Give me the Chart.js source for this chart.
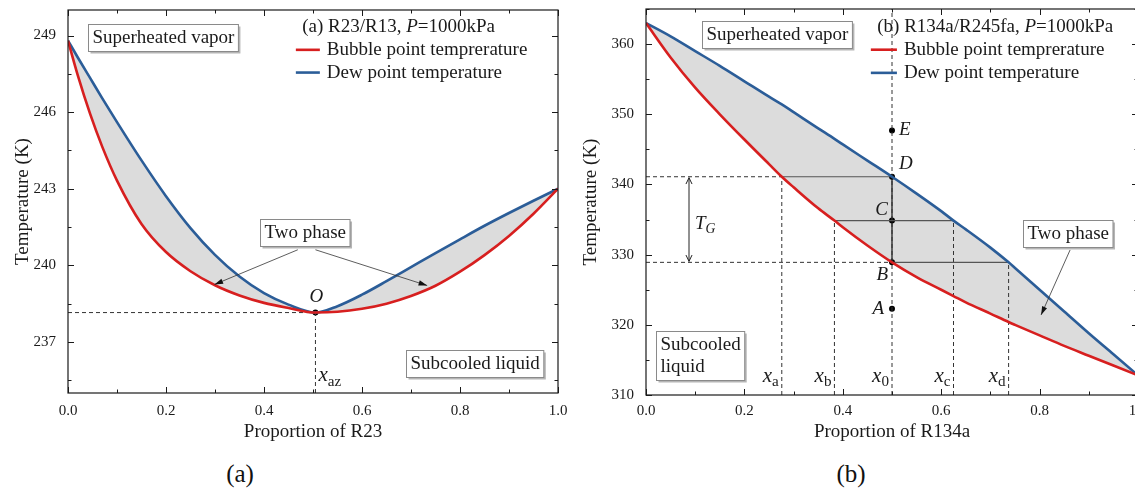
<!DOCTYPE html>
<html>
<head>
<meta charset="utf-8">
<script src="https://cdn.jsdelivr.net/npm/chart.js@4.4.1/dist/chart.umd.min.js"></script>
<style>
  html, body { margin: 0; padding: 0; background: #fff; overflow: hidden; width: 1135px; height: 495px; position: relative; }
  canvas { position: absolute; top: 0; }
  .cap { position: absolute; top: 460px; font: 25px "Liberation Serif", serif; color: #111; transform: translateX(-50%); }
</style>
</head>
<body>
<canvas id="chartA" width="570" height="450" style="left:0"></canvas>
<canvas id="chartB" width="575" height="450" style="left:570px"></canvas>
<div class="cap" style="left:240px">(a)</div>
<div class="cap" style="left:851px">(b)</div>
<script>
// (a) R23/R13 at 1000 kPa
const xA = [0, 0.02, 0.045, 0.07, 0.1, 0.15, 0.2, 0.25, 0.3, 0.35, 0.4, 0.45, 0.505, 0.55, 0.6, 0.65, 0.7, 0.75, 0.8, 0.85, 0.9, 0.95, 1];
const bubbleA = [248.8, 247.44, 245.94, 244.64, 243.32, 241.62, 240.52, 239.77, 239.22, 238.82, 238.53, 238.33, 238.15, 238.18, 238.3, 238.5, 238.8, 239.2, 239.75, 240.4, 241.15, 242.02, 243.0];
const dewA = [248.8, 248.14, 247.34, 246.54, 245.61, 244.11, 242.71, 241.46, 240.41, 239.56, 238.91, 238.46, 238.15, 238.4, 238.85, 239.38, 239.93, 240.48, 241.02, 241.55, 242.05, 242.53, 243.0];
const azeoX = 0.505;
const azeoT = 238.15;
const yTicksA = [237, 240, 243, 246, 249];

// (b) R134a/R245fa at 1000 kPa
const xB = [0, 0.05, 0.1, 0.15, 0.2, 0.25, 0.276, 0.3, 0.35, 0.383, 0.4, 0.45, 0.5, 0.55, 0.6, 0.625, 0.65, 0.7, 0.737, 0.75, 0.8, 0.85, 0.9, 0.95, 1];
const bubbleB = [363, 358.1, 353.8, 350.0, 346.4, 342.9, 341.1, 339.6, 336.6, 334.85, 333.9, 331.3, 328.9, 326.8, 325.0, 324.1, 323.2, 321.6, 320.4, 320.0, 318.5, 317.0, 315.6, 314.2, 312.8];
const dewB = [363, 361.1, 359.0, 356.9, 354.7, 352.5, 351.4, 350.3, 348.0, 346.5, 345.7, 343.4, 341.1, 338.7, 336.2, 334.85, 333.6, 331.0, 328.9, 328.1, 325.0, 321.9, 318.8, 315.8, 312.8];
const x0 = 0.5;
const stateNames = ['A', 'B', 'C', 'D', 'E'];
const stateT = [322.3, 328.9, 334.85, 341.1, 347.7];
const cutNames = ['a', 'b', 'c', 'd'];
const cutX = [0.276, 0.383, 0.625, 0.737];
const cutT = [341.1, 334.85, 334.85, 328.9];
const yTicksB = [310, 320, 330, 340, 350, 360];

const xTicks = [0, 0.2, 0.4, 0.6, 0.8, 1.0];

const SERIF = '"Liberation Serif", "Times New Roman", serif';
const RED = '#d71f1f';
const BLUE = '#2b5d98';
const GREY = '#dcdcdc';
const INK = '#1a1a1a';

const pts = (xs, ys) => xs.map((x, i) => ({ x, y: ys[i] }));

function curve(data, color, fill) {
  return { data, borderColor: color, borderWidth: 2.6, pointRadius: 0, fill: fill || false,
    backgroundColor: GREY, cubicInterpolationMode: 'monotone' };
}
function seg(data, color, dash, width) {
  return { data, borderColor: color, borderWidth: width || 1, borderDash: dash ? [4, 3] : [],
    pointRadius: 0, fill: false, tension: 0 };
}
function dots(data) {
  return { data, showLine: false, pointRadius: 3, pointBackgroundColor: '#000', pointBorderWidth: 0, fill: false };
}

function fnt(flags, size) {
  return (flags.includes('i') ? 'italic ' : '') + size + 'px ' + SERIF;
}
// parts: [text, flags] with 'i' italic, 's' subscript
function rich(ctx, parts, x, y, size, align) {
  size = size || 19;
  const sz = p => (p[1] || '').includes('s') ? size * 0.72 : size;
  let w = 0;
  parts.forEach(p => { ctx.font = fnt(p[1] || '', sz(p)); w += ctx.measureText(p[0]).width; });
  let cx = align === 'center' ? x - w / 2 : align === 'right' ? x - w : x;
  ctx.textAlign = 'left';
  ctx.textBaseline = 'middle';
  ctx.fillStyle = INK;
  parts.forEach(p => {
    ctx.font = fnt(p[1] || '', sz(p));
    ctx.fillText(p[0], cx, y + ((p[1] || '').includes('s') ? size * 0.3 : 0));
    cx += ctx.measureText(p[0]).width;
  });
  return w;
}
function box(ctx, lines, cx, cy) {
  ctx.font = fnt('', 19);
  const w = Math.max(...lines.map(l => ctx.measureText(l).width)) + 8;
  const h = lines.length * 22 + 5;
  const x = Math.round(cx - w / 2) + 0.5, y = Math.round(cy - h / 2) + 0.5;
  ctx.fillStyle = '#b5b5b5';
  ctx.fillRect(x + 2, y + 2, w, h);
  ctx.fillStyle = '#fff';
  ctx.fillRect(x, y, w, h);
  ctx.strokeStyle = '#8a8a8a';
  ctx.lineWidth = 1;
  ctx.strokeRect(x, y, w, h);
  lines.forEach((l, i) => rich(ctx, [[l, '']], x + 4, y + 2.5 + 11 + i * 22, 19, 'left'));
}
function head(ctx, x1, y1, x2, y2, open) {
  const a = Math.atan2(y2 - y1, x2 - x1), L = open ? 7 : 9, W = open ? 0.45 : 0.3;
  ctx.beginPath();
  ctx.moveTo(x2 - L * Math.cos(a - W), y2 - L * Math.sin(a - W));
  ctx.lineTo(x2, y2);
  ctx.lineTo(x2 - L * Math.cos(a + W), y2 - L * Math.sin(a + W));
  if (open) { ctx.stroke(); } else { ctx.closePath(); ctx.fill(); }
}
function arrow(ctx, x1, y1, x2, y2) {
  ctx.strokeStyle = '#333';
  ctx.fillStyle = '#111';
  ctx.lineWidth = 0.8;
  ctx.beginPath();
  ctx.moveTo(x1, y1);
  ctx.lineTo(x2, y2);
  ctx.stroke();
  head(ctx, x1, y1, x2, y2, false);
}
function legend(ctx, X, Y, title, x1, x2, t1, t2) {
  rich(ctx, title, X(x1 + 0.013), Y(t1), 19, 'left');
  [[RED, 'Bubble point temprerature'], [BLUE, 'Dew point temperature']].forEach((it, i) => {
    const yy = Y(t2[i]);
    ctx.strokeStyle = it[0];
    ctx.lineWidth = 2.6;
    ctx.beginPath();
    ctx.moveTo(X(x1), yy);
    ctx.lineTo(X(x2), yy);
    ctx.stroke();
    rich(ctx, [[it[1], '']], X(x2) + 7, yy, 19, 'left');
  });
}

// box frame with inward major/minor ticks on all four sides
const frame = {
  id: 'frame',
  afterDatasetsDraw(chart) {
    const { ctx, chartArea: a, scales: { x, y } } = chart;
    ctx.save();
    ctx.strokeStyle = INK;
    ctx.lineWidth = 1.2;
    ctx.strokeRect(a.left, a.top, a.right - a.left, a.bottom - a.top);
    const marks = (s) => {
      const t = s.ticks.map(k => k.value), st = t[1] - t[0], out = [];
      t.forEach(v => out.push([v, 6]));
      for (let v = t[0] - st / 2; v <= s.max + 1e-9; v += st) if (v >= s.min) out.push([v, 3.5]);
      return out;
    };
    ctx.lineWidth = 1;
    ctx.beginPath();
    marks(x).forEach(([v, L]) => {
      const p = Math.round(x.getPixelForValue(v)) + 0.5;
      ctx.moveTo(p, a.bottom); ctx.lineTo(p, a.bottom - L);
      ctx.moveTo(p, a.top); ctx.lineTo(p, a.top + L);
    });
    marks(y).forEach(([v, L]) => {
      const p = Math.round(y.getPixelForValue(v)) + 0.5;
      ctx.moveTo(a.left, p); ctx.lineTo(a.left + L, p);
      ctx.moveTo(a.right, p); ctx.lineTo(a.right - L, p);
    });
    ctx.stroke();
    ctx.restore();
  }
};

function scales(o) {
  const tickFont = { family: SERIF, size: 15 };
  const titleFont = { family: SERIF, size: 19 };
  return {
    x: {
      type: 'linear', min: 0, max: 1,
      afterBuildTicks: s => { s.ticks = xTicks.map(v => ({ value: v })); },
      afterFit: s => { s.height = o.xh; s.paddingLeft = 0; s.paddingRight = 0; },
      grid: { display: false, drawTicks: false }, border: { display: false },
      ticks: { padding: o.xpad, font: tickFont, color: INK, maxRotation: 0, autoSkip: false, callback: v => v.toFixed(1) },
      title: { display: true, text: o.xTitle, font: titleFont, color: INK, padding: { top: 0, bottom: 7 } }
    },
    y: {
      type: 'linear', min: o.ymin, max: o.ymax,
      afterBuildTicks: s => { s.ticks = o.yTicks.map(v => ({ value: v })); },
      afterFit: s => { s.width = o.yw; s.paddingTop = 0; s.paddingBottom = 0; },
      grid: { display: false, drawTicks: false }, border: { display: false },
      ticks: { padding: 12, font: tickFont, color: INK, callback: v => String(v) },
      title: { display: true, text: 'Temperature (K)', font: titleFont, color: INK, padding: { top: o.ytp, bottom: 0 } }
    }
  };
}
const common = {
  responsive: false,
  animation: false,
  devicePixelRatio: 1,
  plugins: { legend: { display: false }, tooltip: { enabled: false }, filler: { drawTime: 'beforeDatasetsDraw' } }
};

// ---------- chart (a)
const yMinA = 235, yMaxA = 250;
new Chart(document.getElementById('chartA'), {
  type: 'line',
  data: {
    datasets: [
      curve(pts(xA, bubbleA), RED, '+1'),
      curve(pts(xA, dewA), BLUE),
      seg([{ x: 0, y: azeoT }, { x: azeoX, y: azeoT }], '#333', true),
      seg([{ x: azeoX, y: yMinA }, { x: azeoX, y: azeoT }], '#333', true),
      dots([{ x: azeoX, y: azeoT }])
    ]
  },
  options: Object.assign({}, common, {
    layout: { padding: { left: 0, top: 10, right: 12, bottom: 0 } },
    scales: scales({ xh: 57, xpad: 9, xTitle: 'Proportion of R23', ymin: yMinA, ymax: yMaxA, yTicks: yTicksA, yw: 68, ytp: 12 })
  }),
  plugins: [frame, {
    id: 'notesA',
    afterDatasetsDraw(chart) {
      const { ctx, scales: { x, y } } = chart;
      const X = v => x.getPixelForValue(v), Y = v => y.getPixelForValue(v);
      ctx.save();
      box(ctx, ['Superheated vapor'], X(0.194), Y(248.93));
      box(ctx, ['Subcooled liquid'], X(0.829), Y(236.17));
      arrow(ctx, X(0.469), Y(240.61), X(0.299), Y(239.25));
      arrow(ctx, X(0.505), Y(240.61), X(0.733), Y(239.21));
      box(ctx, ['Two phase'], X(0.484), Y(241.27));
      legend(ctx, X, Y, [['(a) R23/R13, ', ''], ['P', 'i'], ['=1000kPa', '']], 0.465, 0.514, 249.34, [248.44, 247.55]);
      rich(ctx, [['O', 'i']], X(azeoX) + 1, Y(azeoT) - 16, 19, 'center');
      rich(ctx, [['x', 'i'], ['az', 's']], X(azeoX) + 3, Y(235.6) - 2, 21, 'left');
      ctx.restore();
    }
  }]
});

// ---------- chart (b)
const yMinB = 310, yMaxB = 365;
const Tb = stateT[1], Tc = stateT[2], Td = stateT[3];
new Chart(document.getElementById('chartB'), {
  type: 'line',
  data: {
    datasets: [
      curve(pts(xB, bubbleB), RED, '+1'),
      curve(pts(xB, dewB), BLUE),
      seg([{ x: 0, y: Td }, { x: cutX[0], y: Td }], '#333', true),
      seg([{ x: cutX[0], y: Td }, { x: x0, y: Td }], '#555', false, 1.2),
      seg([{ x: 0, y: Tb }, { x: x0, y: Tb }], '#333', true),
      seg([{ x: x0, y: Tb }, { x: cutX[3], y: Tb }], '#555', false, 1.2),
      seg([{ x: cutX[1], y: Tc }, { x: cutX[2], y: Tc }], '#555', false, 1.2),
      ...cutX.map((c, i) => seg([{ x: c, y: yMinB }, { x: c, y: cutT[i] }], '#333', true)),
      seg([{ x: x0, y: yMinB }, { x: x0, y: yMaxB }], '#333', true),
      seg([{ x: x0, y: Tb }, { x: x0, y: Td }], '#111', false, 1.2),
      dots(stateT.map(t => ({ x: x0, y: t })))
    ]
  },
  options: Object.assign({}, common, {
    layout: { padding: { left: 0, top: 9, right: 7, bottom: 0 } },
    scales: scales({ xh: 55, xpad: 7, xTitle: 'Proportion of R134a', ymin: yMinB, ymax: yMaxB, yTicks: yTicksB, yw: 76, ytp: 10 })
  }),
  plugins: [frame, {
    id: 'notesB',
    afterDatasetsDraw(chart) {
      const { ctx, scales: { x, y } } = chart;
      const X = v => x.getPixelForValue(v), Y = v => y.getPixelForValue(v);
      ctx.save();
      box(ctx, ['Superheated vapor'], X(0.266), Y(361.3));
      box(ctx, ['Subcooled', 'liquid'], X(0.11), Y(315.6));
      arrow(ctx, X(0.862), Y(330.67), X(0.803), Y(321.4));
      box(ctx, ['Two phase'], X(0.858), Y(332.95));
      legend(ctx, X, Y, [['(b) R134a/R245fa, ', ''], ['P', 'i'], ['=1000kPa', '']], 0.457, 0.51, 362.4, [359.2, 355.9]);
      // state point labels
      const off = [[-13, 0, 'right'], [-9, 13, 'right'], [-9, -11, 'right'], [7, -13, 'left'], [7, 0, 'left']];
      stateNames.forEach((n, i) => {
        const o = off[i];
        rich(ctx, [[n, 'i']], X(x0) + o[0] + (o[2] === 'right' ? 5 : 0), Y(stateT[i]) + o[1], 19, o[2] === 'right' ? 'right' : 'left');
      });
      // composition labels
      cutNames.forEach((n, i) => rich(ctx, [['x', 'i'], [n, 's']], X(cutX[i]) - 3, Y(312.7), 21, 'right'));
      rich(ctx, [['x', 'i'], ['0', 's']], X(x0) - 3, Y(312.7), 21, 'right');
      // temperature glide arrow
      const gx = X(0.0874);
      ctx.strokeStyle = '#222';
      ctx.lineWidth = 1;
      ctx.beginPath();
      ctx.moveTo(gx, Y(Td) + 1);
      ctx.lineTo(gx, Y(Tb) - 1);
      ctx.stroke();
      head(ctx, gx, Y(Tb), gx, Y(Td) + 1, true);
      head(ctx, gx, Y(Td), gx, Y(Tb) - 1, true);
      rich(ctx, [['T', 'i'], ['G', 'is']], gx + 6, Y(334.4), 19, 'left');
      ctx.restore();
    }
  }]
});
</script>
</body>
</html>
